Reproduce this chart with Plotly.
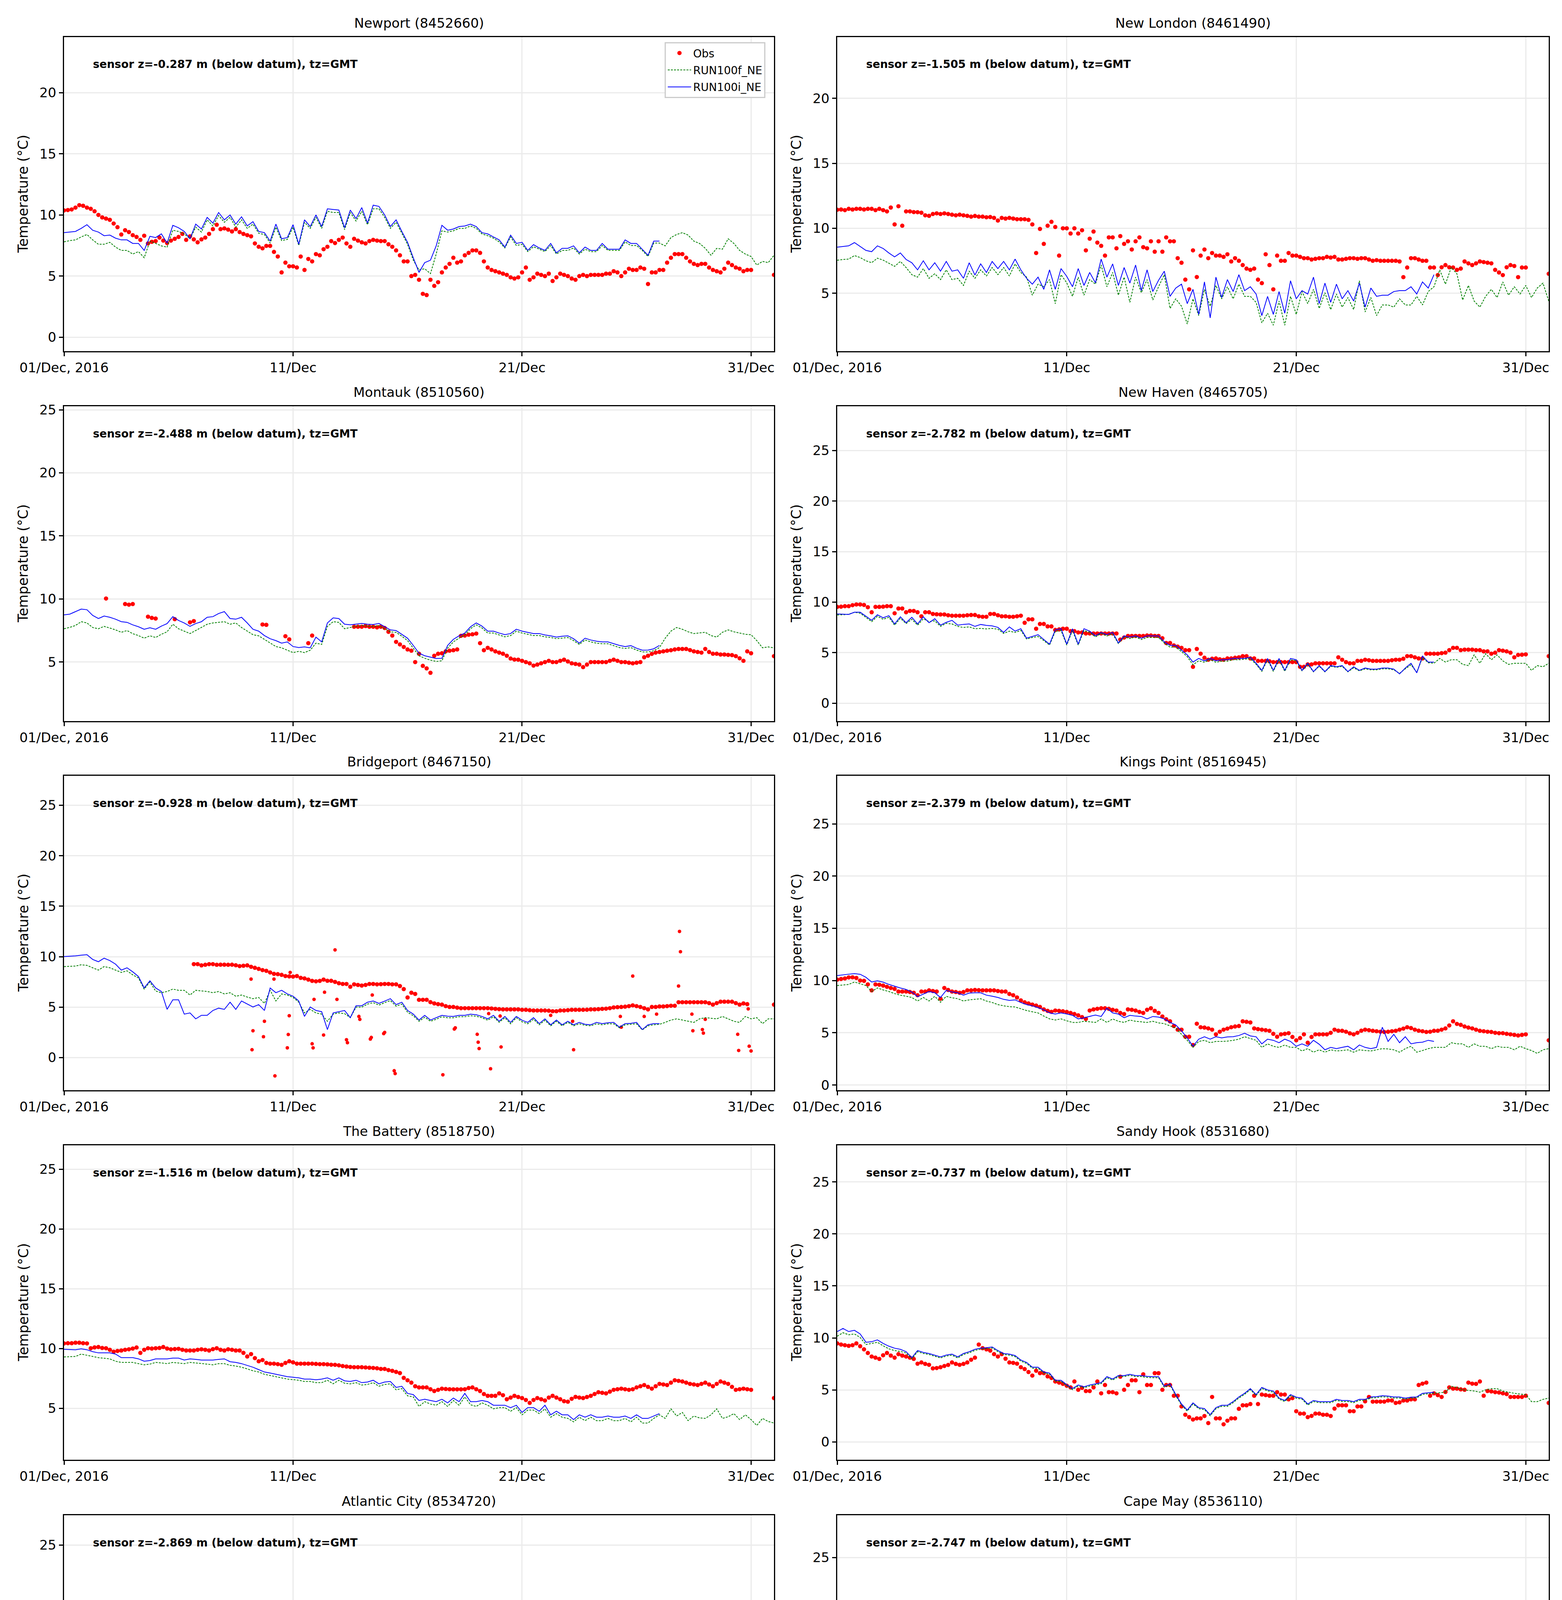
import numpy as np
import pandas as pd
import plotly.graph_objects as go

N = None
START = pd.Timestamp("2016-12-01 00:00")
END = pd.Timestamp("2017-01-01 00:00")
OBS_STEP_H = 4     # observations sampled every 4 h
MOD_STEP_H = 6     # model series sampled every 6 h

stations = ["Newport", "New London", "Montauk", "New Haven", "Bridgeport",
            "Kings Point", "The Battery", "Sandy Hook", "Atlantic City", "Cape May"]
station_ids = ["8452660", "8461490", "8510560", "8465705", "8467150",
               "8516945", "8518750", "8531680", "8534720", "8536110"]
sensor_z = ["-0.287", "-1.505", "-2.488", "-2.782", "-0.928",
            "-2.379", "-1.516", "-0.737", "-2.869", "-2.747"]
y_ranges = [[-1.14, 24.54], [0.54, 24.72], [0.32, 25.28], [-1.77, 29.38], [-3.23, 27.92],
            [-0.5, 29.6], [0.70, 27.0], [-1.72, 28.52], [1.41, 27.46], [-0.56, 28.98]]
tick_dates = ["2016-12-01", "2016-12-11", "2016-12-21", "2016-12-31"]
tick_labels = ["01/Dec, 2016", "11/Dec", "21/Dec", "31/Dec"]

# ---------------- Newport ----------------
newport_obs = [
    10.37, 10.4, 10.45, 10.6, 10.8, 10.75,
    10.6, 10.5, 10.3, 10.0, 9.8, 9.7,
    9.6, 9.3, 9.0, 8.4, 8.75, 8.6,
    8.35, 8.2, 7.96, 8.3, 7.67, 7.8,
    7.86, 8.15, 7.9, 7.7, 7.9, 8.05,
    8.2, 8.45, 7.96, 8.25, 8.0, 7.76,
    8.0, 8.15, 8.45, 8.84, 9.2, 8.84,
    8.9, 8.8, 8.65, 8.84, 8.6, 8.45,
    8.35, 8.25, 7.67, 7.4, 7.27, 7.47,
    7.47, 6.98, 6.6, 5.3, 6.1, 5.8,
    5.8, 5.7, 6.6, 5.5, 6.4, 6.2,
    6.8, 6.7, 7.2, 7.4, 7.86, 7.7,
    7.96, 8.15, 7.67, 7.4, 8.05, 7.9,
    7.76, 7.67, 7.86, 7.96, 7.9, 7.86,
    7.86, 7.6, 7.4, 7.1, 6.7, 6.2,
    6.2, 5.0, 5.1, 4.7, 3.55, 3.45,
    4.7, 4.2, 4.5, 5.3, 5.7, 6.0,
    6.5, 6.1, 6.2, 6.7, 6.9, 7.1,
    7.1, 6.9, 6.2, 5.7, 5.5, 5.4,
    5.3, 5.2, 5.1, 4.9, 4.8, 4.9,
    5.3, 5.7, 4.7, 4.9, 5.2, 5.1,
    5.0, 5.2, 4.6, 4.9, 5.2, 5.1,
    5.0, 4.8, 4.7, 5.0, 5.1, 5.0,
    5.1, 5.1, 5.1, 5.1, 5.2, 5.2,
    5.4, 5.3, 5.0, 5.3, 5.6, 5.5,
    5.5, 5.7, 5.6, 4.35, 5.3, 5.3,
    5.5, 5.5, 6.1, 6.5, 6.8, 6.8,
    6.8, 6.5, 6.2, 6.0, 5.9, 6.0,
    6.0, 5.7, 5.5, 5.4, 5.3, 5.6,
    6.1, 5.9, 5.7, 5.6, 5.4, 5.5,
    5.5, N, N, N, N, N,
    5.1]
newport_run100f = [
    7.8, 7.9, 7.96, 8.2,
    8.4, 7.96, 7.6, 7.6,
    7.76, 7.37, 7.1, 7.1,
    6.8, 7.0, 6.5, 7.86,
    7.67, 7.47, 7.37, 8.75,
    8.65, 8.45, 8.05, 9.0,
    8.6, 9.6, 9.1, 9.95,
    9.4, 9.8, 9.0, 9.6,
    8.9, 9.25, 8.5, 8.4,
    7.7, 9.0, 7.9, 8.0,
    9.0, 7.5, 9.4, 8.9,
    9.8, 8.9, 10.3, 10.2,
    10.2, 8.8, 10.2, 9.5,
    10.3, 9.2, 10.5, 10.5,
    9.8, 8.9, 9.4, 8.5,
    7.6, 6.3, 5.5, 5.6,
    5.2, 6.8, 8.7, 8.6,
    8.7, 8.9, 8.9, 9.1,
    8.9, 8.45, 8.3, 8.1,
    7.8, 7.3, 8.2, 7.5,
    7.6, 7.0, 7.4, 7.2,
    7.0, 7.5, 6.8, 7.1,
    7.1, 7.3, 6.8, 7.2,
    7.0, 7.0, 7.5, 7.1,
    7.1, 7.1, 7.8, 7.5,
    7.5, 7.1, 6.6, 7.7,
    7.7, 7.47, 8.15, 8.4,
    8.55, 8.35, 7.86, 7.67,
    7.27, 6.7, 7.27, 7.2,
    8.05, 7.67, 7.1, 6.8,
    6.6, 5.9, 6.2, 6.1,
    6.7]
newport_run100i = [
    8.55, 8.6, 8.65, 8.9,
    9.2, 8.75, 8.6, 8.3,
    8.35, 8.1, 7.96, 7.96,
    7.67, 7.67, 7.1, 8.25,
    8.15, 8.45, 7.7, 9.15,
    8.95, 8.65, 8.05, 9.25,
    8.85, 9.8, 9.33, 10.2,
    9.6, 10.0, 9.25, 9.85,
    9.1, 9.45, 8.65, 8.55,
    7.86, 9.25, 8.05, 8.15,
    9.2, 7.6, 9.6, 9.05,
    10.0, 9.05, 10.5, 10.45,
    10.4, 8.95, 10.4, 9.7,
    10.6, 9.33, 10.8, 10.7,
    10.0, 9.05, 9.6, 8.65,
    7.76, 6.5, 5.3, 6.1,
    6.3, 7.47, 9.15, 8.75,
    8.85, 9.05, 9.1, 9.25,
    9.05, 8.55, 8.45, 8.2,
    7.96, 7.37, 8.35, 7.67,
    7.76, 7.1, 7.57, 7.3,
    7.1, 7.67, 6.9, 7.27,
    7.27, 7.47, 6.9, 7.37,
    7.1, 7.1, 7.67, 7.2,
    7.2, 7.2, 7.96, 7.67,
    7.67, 7.2, 6.7, 7.86,
    7.86] + [N] * 20

# ---------------- New London ----------------
newlondon_obs = [
    11.43, 11.45, 11.4, 11.5, 11.45, 11.5,
    11.5, 11.45, 11.5, 11.5, 11.4, 11.5,
    11.4, 11.3, 11.6, 10.3, 11.7, 10.2,
    11.3, 11.3, 11.25, 11.24, 11.2, 11.0,
    10.96, 11.1, 11.15, 11.1, 11.15, 11.1,
    11.05, 11.0, 11.05, 11.0, 10.96, 10.9,
    10.95, 10.9, 10.9, 10.85, 10.87, 10.8,
    10.6, 10.8, 10.75, 10.8, 10.75, 10.7,
    10.7, 10.7, 10.65, 10.3, 8.1, 9.95,
    8.8, 10.2, 10.5, 10.1, 7.9, 10.0,
    10.0, 9.6, 10.0, 9.6, 9.85, 8.3,
    9.2, 9.75, 8.9, 8.65, 7.9, 9.3,
    9.3, 8.46, 9.4, 8.8, 9.0, 8.37,
    9.0, 9.3, 8.55, 8.46, 9.0, 8.2,
    9.0, 8.2, 9.3, 9.0, 9.0, 7.7,
    7.35, 6.05, 5.3, 8.3, 6.25, 7.9,
    8.37, 7.7, 8.1, 7.9, 7.9, 7.8,
    8.0, 7.45, 7.7, 7.5, 7.17, 6.9,
    6.8, 6.9, 6.05, 5.78, 8.0, 7.17,
    5.3, 7.9, 7.5, 7.5, 8.1, 7.9,
    7.9, 7.8, 7.7, 7.7, 7.6, 7.65,
    7.7, 7.7, 7.8, 7.75, 7.8, 7.6,
    7.6, 7.65, 7.7, 7.7, 7.65, 7.7,
    7.7, 7.6, 7.5, 7.55, 7.5, 7.5,
    7.5, 7.5, 7.5, 7.45, 6.24, 6.98,
    7.7, 7.7, 7.6, 7.5, 7.5, 6.98,
    6.98, 6.4, 7.0, 7.17, 7.0, 6.98,
    6.8, 6.9, 7.45, 7.3, 7.17, 7.3,
    7.45, 7.4, 7.35, 7.3, 6.8, 6.6,
    6.4, 7.0, 7.17, 7.1, 6.24, 6.98,
    6.98, N, N, N, N, N,
    6.5]
newlondon_run100f = [
    7.54, 7.6, 7.63, 7.9,
    7.75, 7.5, 7.35, 7.7,
    7.55, 7.3, 7.07, 7.45,
    6.98, 6.43, 6.24, 6.9,
    6.15, 6.5, 6.05, 6.8,
    6.05, 6.15, 5.6, 6.7,
    6.15, 6.8, 6.33, 6.98,
    6.43, 6.98, 6.33, 7.26,
    6.6, 6.24, 4.85, 5.7,
    5.5, 6.05, 4.2, 6.43,
    5.8, 4.76, 6.24, 4.85,
    6.05, 5.7, 7.17, 5.5,
    6.6, 4.85, 6.24, 4.3,
    6.24, 5.04, 6.05, 4.48,
    5.5, 6.43, 3.83, 4.57,
    4.0, 2.63, 4.57, 3.28,
    5.3, 4.0, 5.6, 4.57,
    5.5, 4.57, 5.7, 4.76,
    4.76, 4.3, 2.72, 3.46,
    2.54, 4.4, 2.54, 4.76,
    3.37, 5.13, 4.2, 5.3,
    3.83, 5.04, 3.74, 4.94,
    3.93, 4.67, 3.74, 5.96,
    3.56, 4.67, 3.28, 4.1,
    4.1, 3.93, 4.57, 4.1,
    4.1, 4.76, 4.1, 5.13,
    5.5, 6.8, 5.7, 6.98,
    6.5, 4.48, 5.6, 4.4,
    3.93, 4.76, 5.3, 4.67,
    5.87, 4.85, 5.5, 4.94,
    5.6, 4.67, 5.4, 5.78,
    4.4]
newlondon_run100i = [
    8.55, 8.6, 8.65, 8.9,
    8.6, 8.3, 8.2, 8.65,
    8.45, 8.1, 7.8, 8.1,
    7.6, 7.35, 6.8, 7.5,
    6.8, 7.35, 6.7, 7.45,
    6.7, 6.8, 6.15, 7.35,
    6.4, 7.26, 6.6, 7.45,
    6.9, 7.45, 6.8, 7.63,
    6.8, 6.15, 5.7, 6.24,
    5.3, 6.8, 5.3, 6.9,
    6.3, 5.5, 6.9, 5.6,
    6.6, 5.8, 7.63, 6.24,
    7.26, 5.6, 6.98, 5.78,
    7.17, 5.2, 6.8, 5.13,
    6.0, 6.7, 4.76, 5.4,
    5.7, 4.2, 5.3, 3.37,
    5.87, 3.1, 6.24, 4.67,
    6.05, 5.13, 6.43, 5.2,
    5.5, 4.94, 3.28, 4.76,
    3.37, 5.13, 3.46, 5.96,
    4.57, 5.2, 4.94, 6.24,
    4.2, 5.78, 4.3, 5.7,
    4.57, 5.2, 4.4, 5.78,
    3.93, 5.4, 4.76, 4.85,
    4.85, 5.13, 5.2, 5.2,
    5.5, 4.94, 5.87, 5.4,
    6.43] + [N] * 20

# ---------------- Montauk ----------------
montauk_obs = [
    N, N, N, N, N, N,
    N, N, N, N, N, 10.04,
    N, N, N, N, 9.6, 9.55,
    9.6, N, N, N, 8.6, 8.5,
    8.45, N, N, N, N, 8.4,
    N, N, N, 8.15, 8.25, N,
    N, N, N, N, N, N,
    N, N, N, N, N, N,
    N, N, N, N, 7.98, 7.95,
    N, N, N, N, 7.05, 6.8,
    N, N, N, N, 6.5, 7.1,
    N, N, N, N, N, N,
    N, N, N, N, 7.8, 7.8,
    7.8, 7.85, 7.8, 7.8, 7.75, 7.8,
    7.7, 7.4, 7.1, 6.6, 6.4, 6.2,
    6.0, 5.9, 5.0, 5.66, 4.7, 4.5,
    4.15, 5.5, 5.66, 5.7, 5.85, 5.9,
    5.94, 6.0, 7.08, 7.1, 7.17, 7.2,
    7.26, 6.5, 5.94, 6.13, 6.0, 5.85,
    5.75, 5.66, 5.5, 5.28, 5.2, 5.19,
    5.1, 5.0, 4.9, 4.72, 4.8, 4.9,
    5.0, 5.1, 5.0, 5.0, 5.1, 5.19,
    5.05, 4.9, 4.85, 4.8, 4.6, 4.8,
    5.0, 5.0, 5.0, 5.0, 5.0, 5.1,
    5.19, 5.1, 5.0, 5.0, 4.95, 4.9,
    4.95, 5.0, 5.38, 5.5, 5.65, 5.75,
    5.8, 5.85, 5.9, 5.94, 6.0, 6.04,
    6.04, 6.04, 5.95, 5.85, 5.8, 5.75,
    6.04, 5.8, 5.66, 5.66, 5.6, 5.6,
    5.57, 5.55, 5.47, 5.3, 5.1, 5.85,
    5.7, N, N, N, N, N,
    5.47]
montauk_run100f = [
    7.64, 7.75, 7.9, 8.2,
    8.1, 7.74, 7.64, 7.83,
    7.7, 7.55, 7.36, 7.5,
    7.25, 7.1, 6.89, 7.08,
    6.95, 7.2, 7.4, 8.0,
    7.64, 7.45, 7.26, 7.5,
    7.74, 8.0, 8.1, 8.15,
    8.2, 8.0, 8.1, 7.74,
    7.45, 7.17, 7.08, 6.8,
    6.5, 6.23, 6.13, 5.94,
    5.75, 5.85, 5.75, 5.94,
    6.5, 6.4, 7.83, 8.2,
    8.15, 7.64, 7.75, 7.85,
    7.9, 7.85, 7.82, 7.9,
    7.65, 7.4, 7.35, 7.05,
    6.7, 6.1, 5.5, 5.3,
    5.15, 5.05, 5.1, 6.1,
    6.6, 6.9, 7.15, 7.65,
    7.95, 7.7, 7.3, 7.3,
    7.15, 7.0, 7.1, 7.45,
    7.3, 7.2, 7.1, 7.1,
    7.0, 6.95, 6.85, 6.9,
    6.95, 6.7, 6.4, 6.75,
    6.6, 6.5, 6.45, 6.45,
    6.3, 6.15, 6.08, 6.15,
    5.95, 5.8, 5.8, 5.9,
    6.15, 6.89, 7.45, 7.74,
    7.6, 7.4, 7.26, 7.3,
    7.36, 7.1, 6.98, 7.36,
    7.55, 7.4, 7.3, 7.2,
    7.17, 6.7, 6.13, 6.2,
    6.13]
montauk_run100i = [
    8.74, 8.8, 9.0, 9.2,
    9.15, 8.7, 8.45, 8.65,
    8.55, 8.4, 8.2, 8.15,
    7.95, 7.8, 7.6, 7.72,
    7.6, 7.85, 8.05, 8.6,
    8.3, 8.1, 7.83, 8.05,
    8.2, 8.55, 8.6, 8.85,
    9.0, 8.45, 8.4, 8.55,
    8.1, 7.6, 7.45, 7.1,
    6.85, 6.7, 6.5, 6.6,
    6.23, 6.15, 6.2, 6.13,
    6.98, 6.6, 8.1, 8.5,
    8.45, 8.0, 7.95, 8.0,
    8.06, 8.0, 7.98, 8.06,
    7.8, 7.55, 7.5, 7.2,
    6.89, 6.32, 5.7, 5.5,
    5.4, 5.28, 5.3, 6.32,
    6.8, 7.08, 7.3, 7.8,
    8.1, 7.85, 7.45, 7.45,
    7.3, 7.17, 7.26, 7.6,
    7.45, 7.35, 7.26, 7.26,
    7.15, 7.08, 6.98, 7.05,
    7.08, 6.85, 6.5, 6.89,
    6.75, 6.65, 6.6, 6.6,
    6.45, 6.32, 6.23, 6.3,
    6.1, 5.94, 5.95, 6.05,
    6.32] + [N] * 20

# ---------------- New Haven ----------------
newhaven_obs = [
    9.53, 9.55, 9.6, 9.6, 9.7, 9.77,
    9.77, 9.72, 9.5, 9.0, 9.53, 9.53,
    9.55, 9.6, 9.6, 8.9, 9.37, 9.37,
    9.0, 9.13, 9.13, 9.0, 8.6, 9.0,
    9.0, 8.83, 8.8, 8.78, 8.78, 8.7,
    8.66, 8.66, 8.66, 8.66, 8.7, 8.73,
    8.73, 8.6, 8.55, 8.55, 8.83, 8.83,
    8.7, 8.6, 8.6, 8.55, 8.55, 8.6,
    8.66, 7.96, 8.3, 8.3, 7.37, 7.84,
    7.84, 7.6, 7.6, 7.25, 7.3, 7.37,
    7.37, 7.13, 7.13, 7.0, 7.0, 6.9,
    6.9, 6.9, 6.9, 6.9, 6.9, 6.9,
    6.9, 6.9, 6.3, 6.5, 6.66, 6.66,
    6.66, 6.66, 6.66, 6.7, 6.7, 6.66,
    6.66, 6.43, 5.96, 5.96, 5.72, 5.6,
    5.48, 5.25, 5.25, 3.6, 5.37, 4.9,
    4.5, 4.3, 4.4, 4.43, 4.35, 4.3,
    4.43, 4.43, 4.5, 4.54, 4.66, 4.66,
    4.43, 4.43, 4.19, 4.19, 4.19, 4.15,
    4.07, 4.07, 4.07, 4.07, 4.07, 4.07,
    4.07, 3.6, 3.6, 3.84, 3.84, 3.95,
    3.95, 3.95, 3.95, 3.95, 3.95, 4.54,
    4.3, 4.07, 3.95, 3.95, 4.19, 4.19,
    4.3, 4.25, 4.19, 4.19, 4.19, 4.19,
    4.19, 4.25, 4.3, 4.3, 4.4, 4.66,
    4.66, 4.54, 4.43, 4.43, 4.9, 4.9,
    4.9, 4.9, 4.95, 5.0, 5.25, 5.48,
    5.48, 5.25, 5.3, 5.3, 5.3, 5.25,
    5.25, 5.13, 5.13, 4.9, 5.0, 5.25,
    5.2, 5.13, 5.0, 4.54, 4.78, 4.8,
    4.83, N, N, N, N, N,
    4.66]
newhaven_run100f = [
    8.73, 8.75, 8.8, 9.0,
    8.9, 8.5, 8.07, 8.6,
    8.3, 8.5, 7.72, 8.4,
    7.88, 8.3, 7.72, 8.35,
    8.07, 8.15, 7.6, 7.9,
    7.84, 7.6, 7.49, 7.55,
    7.37, 7.4, 7.35, 7.4,
    7.32, 6.9, 7.13, 7.0,
    7.2, 6.35, 6.5, 6.6,
    6.2, 5.75, 7.1, 7.2,
    5.75, 7.2, 5.75, 7.2,
    7.0, 6.55, 6.9, 6.65,
    6.85, 5.9, 6.55, 6.4,
    6.55, 6.3, 6.5, 6.5,
    6.5, 5.95, 5.55, 5.55,
    5.1, 4.6, 3.8, 4.2,
    4.05, 4.3, 4.05, 4.15,
    4.15, 4.3, 4.3, 4.35,
    4.4, 3.85, 3.15, 4.3,
    3.15, 4.3, 3.15, 4.3,
    4.2, 3.2, 3.85, 3.1,
    3.65, 3.1, 3.65, 3.55,
    3.65, 3.1, 3.5, 3.2,
    3.4, 3.3, 3.3, 3.4,
    3.4, 3.3, 2.95, 3.4,
    3.8, 3.05, 4.5, 4.0,
    3.95, 4.43, 4.07, 4.3,
    4.3, 3.84, 3.72, 4.78,
    3.95, 4.9, 4.3, 4.78,
    4.19, 3.84, 3.95, 3.95,
    3.95, 3.25, 3.72, 3.6,
    3.95]
newhaven_run100i = [
    8.83, 8.8, 8.78, 9.0,
    9.0, 8.6, 8.2, 8.75,
    8.45, 8.66, 7.84, 8.55,
    7.96, 8.5, 7.84, 8.55,
    7.96, 8.36, 7.72, 8.0,
    8.2, 7.72, 7.8, 7.84,
    7.6, 7.79, 7.7, 7.65,
    7.5, 7.0, 7.55, 7.13,
    7.37, 6.43, 6.6, 6.78,
    6.3, 5.84, 7.25, 7.37,
    5.84, 7.37, 5.84, 7.37,
    7.13, 6.66, 7.0, 6.78,
    7.0, 5.96, 6.66, 6.54,
    6.66, 6.43, 6.66, 6.66,
    6.66, 6.07, 5.72, 5.72,
    5.25, 4.78, 4.07, 4.43,
    4.19, 4.43, 4.19, 4.3,
    4.3, 4.43, 4.43, 4.43,
    4.54, 3.95, 3.25, 4.43,
    3.25, 4.43, 3.25, 4.43,
    4.3, 3.25, 3.95, 3.13,
    3.72, 3.13, 3.72, 3.6,
    3.72, 3.13, 3.6, 3.25,
    3.48, 3.37, 3.37, 3.48,
    3.48, 3.37, 2.9, 3.48,
    3.95, 3.0, 4.66, 4.07,
    4.07] + [N] * 20

# ---------------- Bridgeport ----------------
bridgeport_obs = [
    N, N, N, N, N, N,
    N, N, N, N, N, N,
    N, N, N, N, N, N,
    N, N, N, N, N, N,
    N, N, N, N, N, N,
    N, N, N, N, 9.26, 9.26,
    9.14, 9.2, 9.26, 9.26, 9.2, 9.21,
    9.21, 9.2, 9.21, 9.15, 9.07, 9.1,
    9.14, 9.0, 8.9, 8.79, 8.67, 8.6,
    8.44, 8.3, 8.27, 8.2, 8.08, 8.05,
    8.03, 8.08, 7.9, 7.85, 7.73, 7.6,
    7.56, 7.6, 7.73, 7.61, 7.61, 7.5,
    7.37, 7.3, 7.3, 7.02, 7.26, 7.2,
    7.14, 7.2, 7.3, 7.3, 7.26, 7.28,
    7.3, 7.3, 7.26, 7.26, 7.09, 6.79,
    5.96, 6.43, 6.31, 5.73, 5.73, 5.73,
    5.5, 5.37, 5.3, 5.25, 5.1, 5.02,
    5.02, 4.95, 4.9, 4.9, 4.9, 4.9,
    4.9, 4.9, 4.9, 4.9, 4.87, 4.83,
    4.8, 4.78, 4.78, 4.78, 4.78, 4.78,
    4.74, 4.74, 4.7, 4.67, 4.67, 4.67,
    4.67, 4.65, 4.6, 4.6, 4.67, 4.67,
    4.7, 4.74, 4.74, 4.74, 4.74, 4.75,
    4.78, 4.78, 4.8, 4.83, 4.85, 4.9,
    4.97, 5.0, 5.02, 5.05, 5.1, 5.18,
    5.1, 5.02, 4.9, 4.78, 5.02, 5.02,
    5.07, 5.07, 5.1, 5.14, 5.14, 5.49,
    5.49, 5.49, 5.49, 5.49, 5.49, 5.49,
    5.49, 5.4, 5.25, 5.4, 5.54, 5.54,
    5.54, 5.54, 5.4, 5.25, 5.37, 5.3,
    N, N, N, N, N, N,
    5.25]
# isolated spurious observations (hours after 01/Dec 00:00, value)
bridgeport_spike_hours = [196, 197, 198, 209, 210, 220, 221, 234, 235, 236, 237, 260, 261, 262,
                          272, 273, 284, 286, 296, 297, 309, 310, 321, 322, 323, 335, 336, 346,
                          347, 397, 409, 410, 433, 434, 435, 445, 447, 457, 458, 510, 533, 534,
                          583, 584, 596, 608, 621, 644, 645, 646, 658, 659, 669, 670, 672, 706,
                          707, 717, 718, 720]
bridgeport_spike_vals = [7.78, 0.78, 2.66, 2.07, 3.6, 7.78, -1.81, 0.97, 2.29, 4.15, 8.44, 1.37, 0.97, 5.77,
                         2.24, 6.48, 10.67, 5.77, 1.77, 1.48, 4.08, 3.79, 1.84, 2.0, 6.2, 2.38, 2.5, -1.3,
                         -1.58, -1.7, 2.83, 2.95, 2.31, 1.53, 0.9, 4.36, -1.1, 4.12, 1.06, 4.19, 3.6, 0.78,
                         4.08, 3.02, 8.08, 4.08, 4.31, 7.09, 12.5, 10.49, 4.31, 2.66, 2.78, 2.43, 3.79, 2.31,
                         0.71, 4.83, 1.13, 0.66]
bridgeport_run100f = [
    9.02, 9.05, 9.07, 9.2,
    9.14, 8.9, 8.67, 9.02,
    8.9, 8.67, 8.44, 8.6,
    8.2, 7.89, 6.79, 7.49,
    6.6, 6.43, 6.55, 6.79,
    6.67, 6.67, 6.2, 6.67,
    6.6, 6.55, 6.43, 6.55,
    6.31, 6.43, 6.08, 6.2,
    6.0, 5.84, 5.96, 5.37,
    6.67, 5.61, 6.31, 6.2,
    5.96, 5.49, 4.43, 4.78,
    4.43, 4.31, 3.6, 4.31,
    4.43, 4.36, 3.96, 5.0,
    5.0, 5.3, 5.45, 5.2,
    5.45, 5.65, 5.1, 5.3,
    4.5, 4.15, 3.6, 4.0,
    3.6, 3.8, 4.05, 3.95,
    3.95, 4.05, 4.05, 4.15,
    4.1, 3.95, 3.7, 4.05,
    3.5, 3.95, 3.35, 3.95,
    3.55, 3.35, 3.8, 3.25,
    3.7, 3.15, 3.6, 3.15,
    3.5, 3.15, 3.35, 3.2,
    3.15, 3.35, 3.25, 3.35,
    3.35, 2.95, 3.25, 3.3,
    3.35, 2.75, 3.15, 3.25,
    3.3, 3.49, 3.72, 3.84,
    3.72, 3.6, 3.49, 3.84,
    3.96, 3.9, 3.84, 4.08,
    3.84, 3.6, 3.49, 4.08,
    3.84, 3.96, 3.37, 3.84,
    3.84]
bridgeport_run100i = [
    10.01, 10.05, 10.08, 10.15,
    10.2, 9.73, 9.5, 9.85,
    9.61, 9.26, 8.67, 8.9,
    8.5, 8.03, 6.9, 7.61,
    6.9, 6.55, 4.78, 5.73,
    5.73, 4.31, 4.43, 3.84,
    4.19, 4.19, 4.67, 4.9,
    4.78, 5.49, 4.78, 5.61,
    5.3, 5.02, 5.25, 4.67,
    6.9, 6.43, 6.67, 6.31,
    6.08, 5.61, 4.08, 5.02,
    4.67, 4.55, 2.78, 4.43,
    4.55, 4.67, 3.96, 5.14,
    5.14, 5.49, 5.61, 5.37,
    5.6, 5.84, 5.25, 5.49,
    4.67, 4.31, 3.72, 4.19,
    3.72, 3.96, 4.19, 4.1,
    4.08, 4.19, 4.19, 4.31,
    4.25, 4.08, 3.84, 4.19,
    3.6, 4.08, 3.49, 4.08,
    3.7, 3.49, 3.96, 3.37,
    3.84, 3.25, 3.72, 3.25,
    3.6, 3.25, 3.49, 3.3,
    3.25, 3.49, 3.37, 3.45,
    3.49, 3.02, 3.37, 3.4,
    3.49, 2.78, 3.25, 3.37,
    3.37] + [N] * 20

# ---------------- Kings Point ----------------
kingspoint_obs = [
    10.09, 10.15, 10.2, 10.3, 10.31, 10.25,
    10.0, 9.97, 9.63, 9.06, 9.63, 9.6,
    9.52, 9.4, 9.29, 9.2, 8.95, 8.95,
    8.95, 8.9, 8.83, 8.6, 8.95, 8.95,
    9.06, 9.0, 8.95, 8.26, 9.29, 9.1,
    8.95, 8.9, 8.83, 8.9, 9.06, 9.06,
    9.1, 9.08, 9.06, 9.06, 9.06, 9.06,
    9.0, 8.95, 8.95, 8.72, 8.6, 8.38,
    8.1, 7.92, 7.81, 7.7, 7.6, 7.47,
    7.24, 7.1, 7.01, 7.13, 7.1, 7.06,
    7.0, 6.9, 6.8, 6.67, 6.5, 6.33,
    7.13, 7.24, 7.3, 7.35, 7.35, 7.3,
    7.2, 7.13, 6.9, 6.79, 7.24, 7.2,
    7.13, 7.0, 6.9, 7.2, 7.35, 7.1,
    6.9, 6.56, 6.3, 6.1, 5.65, 5.3,
    5.3, 4.62, 4.62, 3.83, 5.87, 5.53,
    5.5, 5.42, 5.3, 4.85, 5.1, 5.3,
    5.4, 5.53, 5.6, 5.65, 6.1, 6.05,
    5.99, 5.42, 5.35, 5.3, 5.25, 5.19,
    4.9, 4.62, 4.85, 4.9, 4.96, 4.6,
    4.28, 4.5, 4.85, 4.05, 4.6, 4.85,
    4.85, 4.85, 4.85, 5.0, 5.3, 5.2,
    5.19, 5.1, 4.95, 4.85, 5.0, 5.2,
    5.3, 5.25, 5.19, 5.15, 5.1, 5.08,
    5.1, 5.15, 5.19, 5.3, 5.4, 5.53,
    5.45, 5.3, 5.2, 5.15, 5.08, 5.1,
    5.19, 5.2, 5.3, 5.42, 5.7, 6.1,
    5.85, 5.76, 5.6, 5.5, 5.42, 5.3,
    5.19, 5.15, 5.1, 5.08, 5.0, 4.96,
    4.96, 4.9, 4.85, 4.8, 4.74, 4.8,
    4.85, N, N, N, N, N,
    4.28]
kingspoint_run100f = [
    9.52, 9.58, 9.63, 9.86,
    9.7, 9.52, 8.95, 9.29,
    9.1, 8.95, 8.75, 8.6,
    8.5, 8.38, 8.04, 8.38,
    8.04, 8.49, 7.92, 8.49,
    8.35, 8.26, 8.04, 8.15,
    8.2, 8.26, 8.04, 7.9,
    7.7, 7.58, 7.5, 7.47,
    7.3, 7.13, 7.01, 6.9,
    6.6, 6.33, 6.22, 6.33,
    6.15, 5.99, 5.99, 6.1,
    6.05, 5.99, 6.33, 5.99,
    6.33, 6.1, 5.99, 6.22,
    6.1, 6.05, 5.99, 6.1,
    5.95, 5.87, 5.65, 5.45,
    4.85, 4.28, 3.6, 4.17,
    4.28, 4.05, 4.17, 4.17,
    4.2, 4.28, 4.39, 4.62,
    4.45, 4.28, 3.6, 3.94,
    3.71, 3.6, 3.83, 3.6,
    3.6, 3.26, 3.48, 3.14,
    3.37, 3.14, 3.37, 3.26,
    3.3, 3.37, 3.14, 3.37,
    3.3, 3.26, 3.37, 3.48,
    3.45, 3.37, 3.14, 3.48,
    3.71, 3.14, 3.3, 3.48,
    3.6, 3.6, 3.6, 4.05,
    3.94, 3.94, 3.6, 3.94,
    3.71, 3.71, 3.48, 3.71,
    3.6, 3.6, 3.37, 3.71,
    3.48, 3.3, 3.03, 3.37,
    3.48]
kingspoint_run100i = [
    10.47, 10.55, 10.61, 10.66,
    10.6, 10.31, 9.86, 9.97,
    9.85, 9.63, 9.45, 9.29,
    9.15, 8.9, 8.45, 8.7,
    8.95, 8.83, 8.38, 9.06,
    8.9, 8.83, 8.6, 8.8,
    8.83, 8.83, 8.6, 8.5,
    8.38, 8.2, 8.1, 8.15,
    7.9, 7.7, 7.58, 7.4,
    7.2, 6.9, 6.79, 6.9,
    6.8, 6.67, 6.33, 6.44,
    6.56, 6.7, 6.56, 7.35,
    6.9, 6.79, 6.44, 6.67,
    6.6, 6.56, 6.33, 6.56,
    6.5, 6.33, 5.99, 5.75,
    5.19, 4.51, 3.71, 4.39,
    4.62, 4.39, 4.62, 4.51,
    4.6, 4.62, 4.74, 4.96,
    4.7, 4.62, 3.94, 4.39,
    4.28, 4.05, 4.39, 4.17,
    3.71, 3.94, 3.71, 4.28,
    3.9, 3.37, 3.6, 3.48,
    3.6, 3.71, 3.37, 3.83,
    3.6, 3.48, 3.6, 5.53,
    4.17, 4.85, 4.05, 4.62,
    3.94, 4.05, 4.1, 4.28,
    4.17] + [N] * 20

# ---------------- The Battery ----------------
battery_obs = [
    10.43, 10.45, 10.45, 10.49, 10.49, 10.45,
    10.43, 10.03, 10.1, 10.13, 10.05, 10.03,
    9.9, 9.74, 9.8, 9.84, 9.9, 9.94,
    10.0, 10.09, 9.64, 9.9, 10.03, 10.0,
    10.03, 10.05, 10.13, 10.0, 9.94, 9.96,
    9.98, 9.9, 9.84, 9.84, 9.84, 9.9,
    9.94, 9.9, 9.84, 9.95, 10.03, 9.9,
    9.84, 9.94, 9.9, 9.84, 9.84, 9.64,
    9.34, 9.54, 9.2, 8.94, 9.04, 8.8,
    8.74, 8.74, 8.7, 8.64, 8.8, 8.94,
    8.85, 8.74, 8.74, 8.74, 8.74, 8.74,
    8.72, 8.7, 8.7, 8.68, 8.65, 8.64,
    8.6, 8.54, 8.5, 8.46, 8.44, 8.44,
    8.44, 8.42, 8.4, 8.38, 8.35, 8.3,
    8.3, 8.2, 8.14, 8.05, 7.95, 7.55,
    7.35, 7.15, 6.85, 6.75, 6.75, 6.75,
    6.6, 6.45, 6.55, 6.65, 6.62, 6.6,
    6.59, 6.59, 6.59, 6.6, 6.7, 6.75,
    6.6, 6.45, 6.2, 6.05, 6.05, 6.05,
    6.25, 6.1, 5.76, 5.9, 6.05, 5.95,
    5.86, 5.7, 5.46, 5.7, 5.86, 5.76,
    5.66, 5.9, 6.05, 5.9, 5.76, 5.6,
    5.56, 5.8, 5.96, 5.9, 5.86, 5.95,
    6.05, 6.2, 6.35, 6.3, 6.25, 6.4,
    6.55, 6.6, 6.65, 6.6, 6.55, 6.6,
    6.75, 6.85, 6.95, 6.8, 6.65, 6.85,
    7.05, 7.0, 6.95, 7.15, 7.35, 7.3,
    7.25, 7.15, 7.05, 7.0, 6.95, 7.05,
    7.15, 7.0, 6.85, 7.05, 7.25, 7.15,
    7.05, 6.8, 6.55, 6.6, 6.65, 6.6,
    6.55, N, N, N, N, N,
    5.86]
battery_run100f = [
    9.3, 9.32, 9.34, 9.54,
    9.45, 9.34, 9.24, 9.2,
    9.14, 8.94, 8.84, 8.84,
    8.84, 8.74, 8.64, 8.7,
    8.84, 8.8, 8.74, 8.84,
    8.8, 8.74, 8.84, 8.8,
    8.74, 8.7, 8.64, 8.74,
    8.74, 8.6, 8.54, 8.44,
    8.3, 8.14, 8.04, 7.85,
    7.75, 7.65, 7.55, 7.45,
    7.4, 7.35, 7.25, 7.25,
    7.15, 7.15, 7.35, 7.05,
    7.35, 7.1, 7.05, 7.15,
    6.95, 7.0, 7.15, 6.85,
    7.0, 7.05, 6.55, 6.65,
    6.05, 5.96, 5.16, 5.56,
    5.36, 5.26, 5.56, 5.16,
    5.66, 5.26, 5.96, 5.3,
    5.16, 5.46, 5.26, 4.96,
    5.06, 5.06, 4.76, 5.06,
    4.46, 4.86, 4.86, 4.56,
    4.96, 4.26, 4.56, 4.26,
    4.16, 3.87, 4.26, 3.97,
    4.26, 3.97, 3.97, 4.16,
    3.97, 3.97, 4.16, 3.87,
    4.26, 3.77, 3.77, 4.16,
    4.46, 4.16, 4.96, 4.36,
    4.66, 3.97, 4.36, 4.2,
    4.16, 4.46, 4.96, 4.16,
    4.3, 4.56, 4.06, 4.46,
    4.06, 3.57, 4.16, 3.9,
    3.77]
battery_run100i = [
    9.94, 9.92, 9.9, 9.98,
    9.9, 9.74, 9.64, 9.64,
    9.64, 9.54, 9.24, 9.24,
    9.24, 9.14, 8.94, 9.0,
    9.14, 9.14, 9.14, 9.2,
    9.2, 9.04, 9.14, 9.1,
    9.04, 9.04, 9.04, 9.1,
    9.14, 8.9, 8.84, 8.74,
    8.6, 8.44, 8.24, 8.04,
    7.95, 7.85, 7.75, 7.65,
    7.6, 7.55, 7.45, 7.45,
    7.39, 7.45, 7.55, 7.35,
    7.55, 7.3, 7.25, 7.35,
    7.15, 7.2, 7.35, 7.05,
    7.2, 7.25, 6.75, 6.85,
    6.25, 6.15, 5.66, 5.76,
    5.66, 5.56, 5.76, 5.46,
    5.86, 5.56, 6.25, 5.56,
    5.56, 5.66, 5.56, 5.26,
    5.26, 5.26, 5.06, 5.26,
    4.66, 5.06, 5.06, 4.76,
    5.26, 4.46, 4.76, 4.46,
    4.46, 4.06, 4.46, 4.26,
    4.46, 4.26, 4.26, 4.36,
    4.26, 4.26, 4.36, 4.16,
    4.46, 4.16, 4.16, 4.36,
    4.56] + [N] * 20

# ---------------- Sandy Hook ----------------
sandyhook_obs = [
    9.47, 9.36, 9.3, 9.24, 9.3, 9.47,
    9.2, 8.9, 8.55, 8.21, 8.1, 7.98,
    8.33, 8.55, 8.3, 8.1, 8.44, 8.3,
    8.21, 8.1, 7.98, 7.52, 7.64, 7.5,
    7.41, 7.07, 7.1, 7.18, 7.3, 7.4,
    7.64, 7.5, 7.41, 7.5, 7.64, 7.9,
    8.1, 9.36, 9.01, 8.9, 8.78, 8.44,
    8.21, 8.44, 8.0, 7.64, 7.6, 7.52,
    7.18, 7.0, 6.72, 6.38, 6.84, 6.61,
    6.61, 6.3, 6.15, 5.81, 5.7, 5.58,
    5.4, 5.24, 5.81, 5.01, 5.2, 4.89,
    4.89, 5.24, 5.81, 4.67, 5.47, 4.78,
    4.78, 4.67, 6.27, 5.01, 5.47, 5.92,
    5.92, 4.78, 6.5, 5.47, 5.47, 6.61,
    6.61, 5.01, 5.47, 5.47, 4.44, 4.44,
    3.41, 2.61, 2.38, 2.15, 2.26, 2.26,
    2.49, 1.81, 4.32, 2.26, 2.26, 1.69,
    2.04, 2.26, 2.26, 3.18, 3.52, 3.52,
    3.64, 4.44, 3.64, 4.55, 4.5, 4.44,
    4.44, 4.78, 4.55, 4.55, 4.09, 4.21,
    2.95, 2.72, 2.72, 2.38, 2.5, 2.72,
    2.72, 2.61, 2.61, 2.49, 3.2, 3.52,
    3.52, 3.52, 2.95, 2.95, 3.41, 3.41,
    3.9, 4.32, 3.87, 3.87, 3.87, 3.87,
    3.98, 3.98, 3.75, 3.8, 3.98, 3.98,
    4.09, 4.09, 5.47, 5.6, 5.7, 4.44,
    4.67, 4.5, 4.32, 4.8, 5.24, 5.12,
    5.12, 5.05, 5.01, 5.7, 5.6, 5.58,
    5.81, 4.44, 4.89, 4.85, 4.78, 4.75,
    4.67, 4.6, 4.32, 4.32, 4.32, 4.32,
    4.44, N, N, N, N, N,
    3.75]
sandyhook_run100f = [
    10.16, 10.5, 10.3, 10.38,
    10.04, 9.36, 9.47, 9.58,
    9.24, 8.95, 8.78, 8.7,
    8.55, 7.98, 8.67, 8.5,
    8.4, 8.23, 8.07, 8.25,
    8.34, 8.07, 8.4, 8.57,
    8.8, 8.91, 8.95, 9.03,
    8.68, 8.4, 8.34, 8.2,
    7.77, 7.54, 7.08, 7.08,
    6.62, 6.51, 5.82, 5.82,
    5.4, 5.02, 5.37, 5.2,
    5.37, 5.48, 5.6, 6.17,
    5.94, 6.28, 6.28, 6.4,
    6.28, 6.28, 6.2, 6.17,
    6.17, 5.25, 5.48, 4.45,
    3.54, 2.96, 3.65, 3.19,
    3.1, 2.51, 3.19, 3.42,
    3.42, 3.77, 4.22, 4.57,
    5.02, 4.45, 5.14, 4.9,
    4.79, 4.11, 3.88, 4.45,
    4.2, 4.11, 3.54, 3.88,
    3.77, 3.77, 3.77, 3.99,
    3.88, 3.88, 3.77, 3.99,
    3.99, 4.22, 4.25, 4.34,
    4.3, 4.22, 4.22, 4.11,
    4.2, 4.22, 4.57, 4.62,
    4.67, 4.72, 4.78, 5.35,
    5.24, 5.01, 4.95, 4.89,
    4.78, 5.01, 5.12, 5.12,
    4.89, 4.78, 4.67, 4.6,
    4.55, 3.87, 3.87, 4.09,
    4.21]
sandyhook_run100i = [
    10.61, 10.91, 10.61, 10.73,
    10.38, 9.58, 9.63, 9.81,
    9.47, 9.2, 9.01, 8.9,
    8.67, 8.1, 8.78, 8.6,
    8.5, 8.33, 8.17, 8.35,
    8.44, 8.17, 8.5, 8.67,
    8.9, 9.01, 9.05, 9.13,
    8.78, 8.5, 8.44, 8.3,
    7.87, 7.64, 7.18, 7.18,
    6.72, 6.61, 5.92, 5.92,
    5.5, 5.12, 5.47, 5.3,
    5.47, 5.58, 5.7, 6.27,
    6.04, 6.38, 6.38, 6.5,
    6.38, 6.38, 6.3, 6.27,
    6.27, 5.35, 5.58, 4.55,
    3.64, 3.06, 3.75, 3.29,
    3.2, 2.61, 3.29, 3.52,
    3.52, 3.87, 4.32, 4.67,
    5.12, 4.55, 5.24, 5.0,
    4.89, 4.21, 3.98, 4.55,
    4.3, 4.21, 3.64, 3.98,
    3.87, 3.87, 3.87, 4.09,
    3.98, 3.98, 3.87, 4.09,
    4.09, 4.32, 4.35, 4.44,
    4.4, 4.32, 4.32, 4.21,
    4.3, 4.32, 4.67, 4.72,
    4.78] + [N] * 20

# ---------------- Atlantic City ----------------
atlanticcity_obs = [
    10.73, 10.93, 10.83, 11.03, 11.1, 11.19,
    10.93, 10.73, 10.34, 10.04, 10.08, 10.1,
    10.14, 9.55, 9.45, 9.65, 9.85, 9.9,
    10.04, 9.75, 9.55, 9.55, 9.55, 9.5,
    9.45, 9.4, 9.35, 9.35, 9.45, 9.4,
    9.26, 9.2, 9.1, 9.06, 9.06, 9.06,
    8.76, 8.37, 8.57, 8.96, 8.86, 8.9,
    9.06, 8.9, 8.86, 9.55, 9.45, 9.3,
    9.16, 8.27, 7.88, 8.07, 7.9, 7.58,
    7.58, 7.19, 7.68, 6.79, 7.48, 7.2,
    7.09, 7.15, 7.19, 6.79, 7.38, 7.3,
    7.29, 6.5, 7.29, 7.38, 8.47, 8.4,
    8.37, 7.68, 7.8, 7.88, 8.27, 7.9,
    7.88, 7.85, 7.78, 7.7, 7.68, 7.75,
    7.78, 7.6, 7.48, 7.29, 6.79, 6.5,
    6.2, 5.12, 2.95, 5.51, 4.82, 5.32,
    5.1, 4.82, 5.32, 5.12, 5.32, 5.2,
    5.22, 5.81, 6.3, 6.79, 6.79, 6.79,
    6.79, 6.6, 6.4, 6.3, 6.2, 6.15,
    6.1, 5.32, 4.82, 4.82, 4.82, 4.8,
    4.8, 4.76, 4.7, 4.63, 4.8, 5.02,
    4.9, 4.82, 5.1, 5.32, 5.5, 5.51,
    5.12, 5.2, 5.22, 5.35, 5.51, 5.51,
    5.51, 5.45, 5.41, 6.1, 6.4, 6.6,
    6.6, 6.6, 6.55, 6.5, 6.6, 6.69,
    6.6, 6.4, 6.1, 5.91, 6.0, 6.0,
    6.05, 6.1, 6.2, 6.5, 7.09, 7.0,
    6.99, 6.9, 6.79, 6.75, 6.69, 6.69,
    6.69, 6.5, 6.2, 6.2, 6.2, 6.3,
    6.4, 6.3, 6.1, 5.9, 5.71, 5.8,
    5.91, N, N, N, N, N,
    6.0]
atlanticcity_run100f = [
    9.65, 10.6, 11.13, 11.07,
    11.07, 11.03, 10.93, 11.13,
    11.33, 11.05, 10.93, 11.03,
    10.8, 10.6, 10.5, 10.45,
    10.3, 10.22, 10.18, 10.3,
    10.2, 10.08, 10.02, 10.2,
    9.95, 9.98, 10.0, 9.98,
    9.92, 9.7, 9.62, 9.48,
    9.3, 8.98, 8.67, 8.76,
    8.5, 8.4, 8.37, 8.37,
    8.0, 7.88, 7.8, 7.45,
    7.6, 7.7, 8.3, 9.0,
    8.85, 8.75, 8.7, 8.4,
    8.6, 8.3, 8.5, 8.5,
    8.4, 8.17, 7.9, 7.4,
    6.79, 6.4, 6.55, 6.5,
    6.45, 6.2, 6.45, 6.85,
    7.2, 7.5, 7.7, 8.2,
    7.95, 7.6, 7.4, 7.38,
    6.89, 6.75, 6.7, 6.8,
    6.89, 6.69, 6.4, 6.5,
    6.4, 6.3, 6.3, 6.9,
    6.7, 6.7, 6.6, 6.95,
    6.7, 6.9, 6.95, 7.1,
    7.2, 6.95, 7.0, 6.9,
    6.8, 5.6, 6.3, 6.45,
    6.5, 6.6, 6.75, 7.1,
    7.52, 7.09, 7.09, 7.0,
    6.99, 6.5, 6.8, 6.89,
    6.89, 6.79, 6.95, 6.99,
    6.89, 6.6, 6.6, 6.7,
    6.89]
atlanticcity_run100i = [
    10.04, 11.2, 11.42, 11.46,
    11.45, 11.42, 11.33, 11.46,
    11.38, 11.1, 10.93, 11.03,
    10.8, 10.6, 10.5, 10.48,
    10.34, 10.25, 10.2, 10.34,
    10.24, 10.1, 10.04, 10.24,
    9.95, 10.0, 10.04, 10.0,
    9.95, 9.7, 9.65, 9.5,
    9.3, 9.0, 8.67, 8.76,
    8.5, 8.4, 8.37, 8.37,
    8.0, 7.85, 7.78, 7.38,
    7.58, 7.68, 8.27, 8.96,
    8.8, 8.7, 8.67, 8.27,
    8.57, 8.27, 8.47, 8.47,
    8.4, 8.17, 7.88, 7.38,
    6.79, 6.4, 6.6, 6.55,
    6.5, 6.2, 6.5, 6.89,
    7.2, 7.5, 7.68, 8.17,
    7.95, 7.6, 7.38, 7.38,
    6.89, 6.75, 6.69, 6.8,
    6.89, 6.69, 6.4, 6.5,
    6.4, 6.3, 6.3, 6.79,
    6.6, 6.4, 6.3, 6.69,
    6.4, 6.6, 6.69, 6.85,
    6.99, 6.69, 6.79, 6.7,
    6.69, 5.41, 6.1, 6.2,
    6.3] + [N] * 20

# ---------------- Cape May ----------------
capemay_obs = [
    10.9, 10.68, 10.79, 11.13, 11.13, 11.13,
    10.9, 10.0, 9.79, 9.79, 9.79, 9.7,
    9.67, 9.0, 8.55, 8.5, 8.44, 8.44,
    8.44, 8.33, 7.88, 8.55, 8.6, 8.7,
    8.78, 8.7, 8.67, 8.8, 8.89, 8.9,
    9.0, 8.9, 8.78, 8.85, 8.89, 8.95,
    9.0, 9.2, 9.45, 9.3, 9.23, 9.15,
    9.12, 9.0, 8.89, 8.89, 8.89, 8.55,
    7.66, 7.1, 6.21, 5.54, 5.88, 5.3,
    4.98, 4.87, 5.09, 3.75, 5.43, 5.4,
    5.32, 3.87, 5.09, 5.54, 6.21, 6.3,
    6.32, 6.4, 6.55, 6.77, 6.8, 7.1,
    7.1, 6.77, 6.88, 6.9, 7.1, 7.1,
    7.05, 6.99, 6.99, 7.0, 7.1, 7.1,
    6.99, 6.43, 6.1, 4.98, 4.5, 4.09,
    4.09, 2.75, 1.41, 1.07, 2.52, 1.63,
    2.75, 2.75, 3.31, 3.75, 3.9, 3.98,
    4.54, 4.76, 5.43, 5.54, 5.2, 5.21,
    5.99, 4.76, 5.65, 5.4, 5.21, 5.21,
    5.21, 5.21, 5.15, 5.09, 5.0, 4.98,
    4.76, 3.87, 4.76, 4.6, 4.54, 4.54,
    4.54, 4.54, 5.21, 4.9, 4.54, 4.7,
    4.87, 3.87, 4.5, 4.87, 4.87, 4.65,
    4.7, 4.98, 5.1, 5.32, 5.43, 5.3,
    5.21, 5.4, 5.65, 5.3, 5.09, 5.99,
    5.99, 6.05, 6.1, 6.2, 6.43, 6.5,
    6.55, 6.4, 6.32, 7.22, 6.55, 6.77,
    6.5, 6.1, 6.3, 6.55, 6.55, 6.55,
    6.55, 6.55, 6.55, 6.55, 6.6, 6.77,
    6.3, 5.88, 5.6, 5.43, 5.09, 4.9,
    4.76, N, N, N, N, N,
    N]
capemay_run100f = [
    14.14, 14.3, 14.1, 14.14,
    13.58, 13.02, 12.8, 12.35,
    12.1, 11.3, 11.2, 11.1,
    10.8, 10.1, 10.9, 10.7,
    10.65, 10.55, 11.1, 10.7,
    11.1, 10.5, 11.2, 11.15,
    11.1, 11.2, 11.1, 11.0,
    10.8, 10.4, 10.6, 10.1,
    9.5, 8.7, 8.6, 7.8,
    7.7, 7.9, 7.6, 7.45,
    7.65, 6.9, 7.85, 7.65,
    7.95, 7.55, 8.3, 8.7,
    7.45, 7.25, 7.75, 7.95,
    7.95, 7.75, 8.2, 8.3,
    7.6, 7.5, 6.75, 6.0,
    5.0, 4.55, 3.7, 4.5,
    4.25, 4.6, 4.7, 4.9,
    5.9, 5.6, 6.25, 6.9,
    6.05, 5.85, 5.85, 7.1,
    6.3, 7.1, 6.3, 7.55,
    6.95, 7.05, 6.4, 6.35,
    6.3, 6.2, 6.2, 6.2,
    6.2, 5.45, 5.25, 5.6,
    5.3, 6.35, 6.1, 6.1,
    6.0, 6.2, 6.1, 6.0,
    5.9, 6.6, 6.8, 6.85,
    7.0, 6.99, 6.88, 7.88,
    6.99, 6.77, 6.43, 6.32,
    6.43, 6.43, 7.1, 6.5,
    6.88, 6.1, 5.76, 5.88,
    4.98, 4.42, 4.65, 4.7,
    4.87]
capemay_run100i = [
    14.14, 14.3, 14.1, 14.14,
    13.58, 13.02, 12.8, 12.35,
    12.02, 11.1, 10.9, 10.75,
    10.68, 10.0, 10.9, 10.7,
    10.68, 10.57, 11.13, 10.7,
    11.13, 10.46, 11.19, 11.15,
    11.13, 11.19, 11.05, 11.01,
    10.79, 10.34, 10.57, 10.0,
    9.45, 8.67, 8.55, 7.77,
    7.66, 7.88, 7.6, 7.44,
    7.66, 6.88, 7.88, 7.66,
    8.0, 7.55, 8.33, 8.78,
    7.44, 7.22, 7.77, 8.0,
    8.0, 7.77, 8.22, 8.33,
    7.66, 7.55, 6.77, 5.99,
    4.98, 4.54, 3.64, 4.54,
    4.2, 4.65, 4.76, 4.98,
    6.1, 5.65, 6.32, 6.99,
    6.1, 5.88, 5.88, 7.22,
    6.32, 7.22, 6.32, 7.66,
    6.99, 7.1, 6.43, 6.4,
    6.32, 6.21, 6.21, 6.21,
    6.21, 5.43, 5.21, 5.65,
    5.32, 6.43, 6.1, 6.1,
    5.99, 6.21, 6.1, 6.0,
    5.88, 6.66, 6.88, 6.9,
    7.1] + [N] * 20

obs_series = [newport_obs, newlondon_obs, montauk_obs, newhaven_obs, bridgeport_obs,
              kingspoint_obs, battery_obs, sandyhook_obs, atlanticcity_obs, capemay_obs]
f_series = [newport_run100f, newlondon_run100f, montauk_run100f, newhaven_run100f, bridgeport_run100f,
            kingspoint_run100f, battery_run100f, sandyhook_run100f, atlanticcity_run100f, capemay_run100f]
i_series = [newport_run100i, newlondon_run100i, montauk_run100i, newhaven_run100i, bridgeport_run100i,
            kingspoint_run100i, battery_run100i, sandyhook_run100i, atlanticcity_run100i, capemay_run100i]


def times(values, step_h):
    return START + pd.to_timedelta(np.arange(len(values)) * step_h, unit="h")


# ---------------- layout geometry ----------------
X_DOM = [[0.039, 0.4935], [0.534, 0.9895]]
Y_DOM = [[0.8218, 0.9826], [0.6324, 0.7936], [0.4434, 0.6044], [0.2542, 0.4152], [0.0648, 0.2258]]

FONT = "DejaVu Sans"
OBS_COLOR = "#ff0000"
F_COLOR = "#008000"
I_COLOR = "#0000ff"
GRID = "#ebebeb"

fig = go.Figure()
annotations = []
layout_axes = {}

for k in range(10):
    row, col = k // 2, k % 2
    xa = "x" if k == 0 else f"x{k + 1}"
    ya = "y" if k == 0 else f"y{k + 1}"
    xkey = "xaxis" if k == 0 else f"xaxis{k + 1}"
    ykey = "yaxis" if k == 0 else f"yaxis{k + 1}"
    first = (k == 0)

    fig.add_trace(go.Scatter(
        x=times(obs_series[k], OBS_STEP_H), y=obs_series[k], mode="markers",
        marker=dict(color=OBS_COLOR, size=11, line=dict(width=0)),
        name="Obs", legendgroup="obs", showlegend=first, xaxis=xa, yaxis=ya))
    if stations[k] == "Bridgeport":
        fig.add_trace(go.Scatter(
            x=START + pd.to_timedelta(np.array(bridgeport_spike_hours), unit="h"),
            y=bridgeport_spike_vals, mode="markers",
            marker=dict(color=OBS_COLOR, size=9, line=dict(width=0)),
            name="Obs", legendgroup="obs", showlegend=False, xaxis=xa, yaxis=ya))
    fig.add_trace(go.Scatter(
        x=times(f_series[k], MOD_STEP_H), y=f_series[k], mode="lines",
        line=dict(color=F_COLOR, width=2, dash="5px,3px"),
        name="RUN100f_NE", legendgroup="f", showlegend=first, xaxis=xa, yaxis=ya))
    fig.add_trace(go.Scatter(
        x=times(i_series[k], MOD_STEP_H), y=i_series[k], mode="lines",
        line=dict(color=I_COLOR, width=2),
        name="RUN100i_NE", legendgroup="i", showlegend=first, xaxis=xa, yaxis=ya))

    layout_axes[xkey] = dict(
        domain=X_DOM[col], anchor=ya, type="date", automargin=False,
        range=[START, END],
        tickmode="array", tickvals=tick_dates, ticktext=tick_labels,
        showgrid=True, gridcolor=GRID, gridwidth=2.5,
        showline=True, linecolor="black", linewidth=3, mirror=True,
        ticks="outside", ticklen=10, tickwidth=2.5, tickcolor="black",
        tickfont=dict(family=FONT, size=34, color="black"),
        zeroline=False)
    layout_axes[ykey] = dict(
        domain=Y_DOM[row], anchor=xa, automargin=False,
        range=y_ranges[k], tick0=0, dtick=5,
        showgrid=True, gridcolor=GRID, gridwidth=2.5,
        showline=True, linecolor="black", linewidth=3, mirror=True,
        ticks="outside", ticklen=10, tickwidth=2.5, tickcolor="black",
        tickfont=dict(family=FONT, size=34, color="black"),
        zeroline=False)

    xd = f"{xa} domain"
    yd = f"{ya} domain"
    annotations.append(dict(
        text=f"{stations[k]} ({station_ids[k]})", xref=xd, yref=yd, x=0.5, y=1,
        xanchor="center", yanchor="bottom", yshift=14, showarrow=False,
        font=dict(family=FONT, size=34, color="black")))
    annotations.append(dict(
        text=f"<b>sensor z={sensor_z[k]} m (below datum), tz=GMT</b>", xref=xd, yref=yd,
        x=0.0395, y=0.913, xanchor="left", yanchor="middle", showarrow=False,
        font=dict(family=FONT, size=28, color="black")))
    annotations.append(dict(
        text="Temperature (°C)", xref=xd, yref=yd, x=0, y=0.5, xshift=-105,
        xanchor="center", yanchor="middle", textangle=-90, showarrow=False,
        font=dict(family=FONT, size=35, color="black")))

annotations.append(dict(
    text="Time", xref="paper", yref="paper", x=0.5015, y=1 - 4944 / 5000,
    xanchor="center", yanchor="middle", showarrow=False,
    font=dict(family=FONT, size=39, color="black")))

fig.update_layout(
    template="none",
    width=4000, height=5000, autosize=False,
    margin=dict(l=0, r=0, t=0, b=0, pad=0, autoexpand=False),
    paper_bgcolor="white", plot_bgcolor="white",
    font=dict(family=FONT, color="black"),
    annotations=annotations,
    showlegend=True,
    legend=dict(x=1952 / 4000, y=1 - 100 / 5000, xanchor="right", yanchor="top",
                bgcolor="white", bordercolor="#cccccc", borderwidth=3,
                font=dict(family=FONT, size=28, color="black"),
                itemwidth=60, tracegroupgap=4),
    **layout_axes)

fig.write_html("out.html")
